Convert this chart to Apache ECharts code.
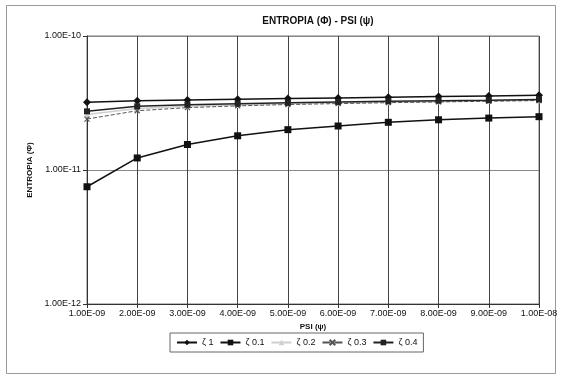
<!DOCTYPE html>
<html>
<head>
<meta charset="utf-8">
<script src="https://cdn.jsdelivr.net/npm/echarts@6/dist/echarts.min.js"></script>
<style>
html, body { margin: 0; padding: 0; background: #fff; }
#chart { width: 561px; height: 379px; }
</style>
</head>
<body>
<div id="chart"></div>
<script>
// PSI values (x axis labels)
var psiLabels = ['1.00E-09', '2.00E-09', '3.00E-09', '4.00E-09', '5.00E-09',
                 '6.00E-09', '7.00E-09', '8.00E-09', '9.00E-09', '1.00E-08'];

// entropia per zeta
var zeta1  = [3.20e-11, 3.29e-11, 3.33e-11, 3.37e-11, 3.41e-11, 3.45e-11, 3.49e-11, 3.53e-11, 3.57e-11, 3.62e-11];
var zeta01 = [7.5e-12, 1.23e-11, 1.55e-11, 1.80e-11, 2.00e-11, 2.13e-11, 2.27e-11, 2.37e-11, 2.44e-11, 2.50e-11];
var zeta02 = [2.60e-11, 2.88e-11, 2.99e-11, 3.06e-11, 3.12e-11, 3.17e-11, 3.21e-11, 3.25e-11, 3.28e-11, 3.32e-11];
var zeta03 = [2.40e-11, 2.77e-11, 2.92e-11, 3.01e-11, 3.08e-11, 3.13e-11, 3.18e-11, 3.22e-11, 3.26e-11, 3.30e-11];
var zeta04 = [2.74e-11, 2.99e-11, 3.07e-11, 3.12e-11, 3.17e-11, 3.22e-11, 3.26e-11, 3.29e-11, 3.32e-11, 3.36e-11];

var seriesNames = ['ζ 1', 'ζ 0.1', 'ζ 0.2', 'ζ 0.3', 'ζ 0.4'];

var font = 'Liberation Sans, Arial, sans-serif';

function expLabel(v) {
    var s = Number(v).toExponential(2).toUpperCase();
    return s.replace(/E([+-])(\d)$/, 'E$10$2').replace('E+', 'E');
}

var myChart = echarts.init(document.getElementById('chart'));

function mkSeries(name, data, color, symbol, size, dashed) {
    return {
        name: name,
        type: 'line',
        data: data,
        symbol: symbol,
        symbolSize: size,
        showAllSymbol: true,
        lineStyle: { color: color, width: dashed ? 1 : 1.5, type: dashed ? 'dashed' : 'solid' },
        itemStyle: { color: color, borderColor: color, borderWidth: symbol.indexOf('path') === 0 ? 1.2 : 0 },
        emphasis: { disabled: true },
        animation: false
    };
}

myChart.setOption({
    backgroundColor: '#fff',
    animation: false,
    title: {
        text: 'ENTROPIA (Φ) - PSI (ψ)',
        left: 313,
        top: 11,
        textAlign: 'center',
        textStyle: { fontFamily: font, fontSize: 10, fontWeight: 'bold', color: '#111' }
    },
    graphic: [{
        type: 'rect',
        shape: { x: 6.5, y: 5.5, width: 549, height: 368 },
        style: { fill: 'none', stroke: '#999', lineWidth: 1 },
        silent: true
    }, {
        type: 'rect',
        shape: { x: 87, y: 36, width: 452, height: 268 },
        style: { fill: 'none', stroke: '#777', lineWidth: 1 },
        silent: true
    }],
    legend: {
        data: seriesNames,
        left: 170,
        top: 333,
        padding: [5, 6],
        itemGap: 6,
        itemWidth: 20,
        itemHeight: 7,
        borderColor: '#666',
        borderWidth: 1,
        textStyle: { fontFamily: font, fontSize: 9, color: '#111' }
    },
    grid: { left: 87, right: 22, top: 36, bottom: 75 },
    xAxis: {
        type: 'category',
        data: psiLabels,
        boundaryGap: false,
        name: 'PSI (ψ)',
        nameLocation: 'middle',
        nameGap: 18,
        nameTextStyle: { fontFamily: font, fontSize: 8, fontWeight: 'bold', color: '#111' },
        axisLine: { lineStyle: { color: '#333' } },
        axisTick: { show: true, length: 4, lineStyle: { color: '#333' }, alignWithLabel: true },
        axisLabel: { fontFamily: font, fontSize: 9, color: '#111', margin: 5, interval: 0 },
        splitLine: { show: true, lineStyle: { color: '#444', width: 1 } }
    },
    yAxis: {
        type: 'log',
        logBase: 10,
        min: 1e-12,
        max: 1e-10,
        name: 'ENTROPIA (Φ)',
        nameLocation: 'middle',
        nameGap: 52,
        nameTextStyle: { fontFamily: font, fontSize: 8, fontWeight: 'bold', color: '#111' },
        axisLine: { show: true, lineStyle: { color: '#333' } },
        axisTick: { show: true, length: 4, lineStyle: { color: '#333' } },
        axisLabel: { fontFamily: font, fontSize: 9, color: '#111', margin: 6, formatter: expLabel },
        splitLine: { show: true, lineStyle: { color: '#888', width: 1 } },
        minorTick: { show: false }
    },
    series: [
        mkSeries('ζ 1', zeta1, '#111', 'diamond', 8, false),
        mkSeries('ζ 0.1', zeta01, '#111', 'rect', 7, false),
        mkSeries('ζ 0.2', zeta02, '#cfcfcf', 'triangle', 6, false),
        mkSeries('ζ 0.3', zeta03, '#555', 'path://M0,0L10,10M10,0L0,10', 5, true),
        mkSeries('ζ 0.4', zeta04, '#222', 'rect', 6, false)
    ]
});

window.onresize = function () {
    myChart.resize();
};
</script>
</body>
</html>
